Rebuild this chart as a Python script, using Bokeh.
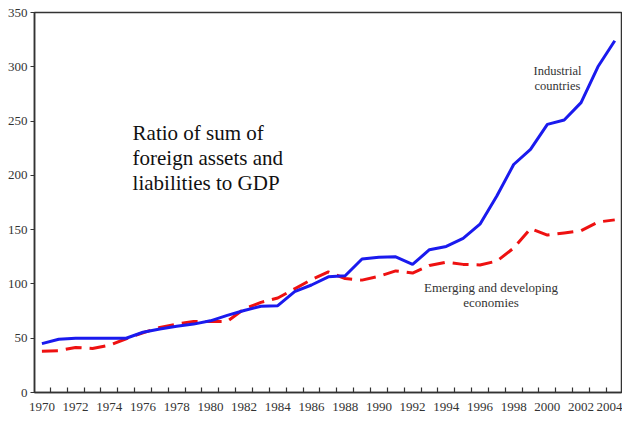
from bokeh.plotting import figure
from bokeh.models import FixedTicker, LinearAxis, Label, Range1d
from bokeh.embed import file_html
from bokeh.resources import INLINE

# ---- data ----
years = list(range(1970, 2005))
industrial = [45, 49, 50, 50, 50, 50, 55.5, 58.5, 61, 63,
              66, 71, 75.5, 79.5, 80, 93, 99, 106.5, 107.5, 123,
              124.5, 125, 118, 131.5, 134.5, 142, 155, 181, 210, 224,
              247, 251, 267, 300, 324]
emerging = [38, 38.5, 41.5, 40.5, 43.5, 49.5, 55, 60, 63, 65.5,
            65.5, 65.5, 77, 83, 87, 95.5, 104, 111, 105, 103.5,
            107, 112, 110, 117, 120, 118, 117.5, 121, 133, 151,
            145, 147, 149, 157, 159]
x_tick_marks = [y + 0.5 for y in range(1970, 2004)]
x_label_years = list(range(1970, 2005, 2))
y_ticks = [0, 50, 100, 150, 200, 250, 300, 350]

FONT = "Liberation Serif"
TXT = "#333333"

p = figure(width=622, height=413, output_backend="svg", toolbar_location=None,
           x_range=Range1d(1969.56, 2004.4), y_range=Range1d(0, 350),
           min_border_left=34, min_border_top=12, min_border_right=1,
           min_border_bottom=17, background_fill_color="white",
           border_fill_color="white")
p.grid.visible = False
p.outline_line_color = "#333333"
p.outline_line_width = 1.5

# x axis: tick marks only (between years)
xa = p.xaxis[0]
xa.ticker = FixedTicker(ticks=x_tick_marks)
xa.major_label_overrides = {t: "" for t in x_tick_marks}
xa.major_label_standoff = 0
xa.major_tick_in = 5
xa.major_tick_out = 0
xa.minor_tick_line_color = None
xa.axis_line_color = "#333333"
xa.axis_line_width = 1.5
xa.major_tick_line_color = "#333333"
xa.major_tick_line_width = 1.2

# x axis: year labels
xl = LinearAxis(ticker=FixedTicker(ticks=x_label_years))
xl.axis_line_color = None
xl.major_tick_line_color = None
xl.minor_tick_line_color = None
xl.major_label_standoff = 4
xl.major_label_text_font = FONT
xl.major_label_text_font_size = "13px"
xl.major_label_text_color = TXT
p.add_layout(xl, "below")

ya = p.yaxis[0]
ya.ticker = FixedTicker(ticks=y_ticks)
ya.major_tick_in = 0
ya.major_tick_out = 4
ya.minor_tick_line_color = None
ya.axis_line_color = "#333333"
ya.axis_line_width = 1.5
ya.major_tick_line_color = "#333333"
ya.major_label_standoff = 3
ya.major_label_text_font = FONT
ya.major_label_text_font_size = "13px"
ya.major_label_text_color = TXT

p.line(years, emerging, line_color="#ee1111", line_width=3, line_dash="16 8")
p.line(years, industrial, line_color="#1a1aee", line_width=3)

# annotations
for txt, yv in [("Ratio of sum of", 249.8), ("foreign assets and", 227.0),
                ("liabilities to GDP", 204.2)]:
    p.add_layout(Label(x=1975.38, y=yv, text=txt, text_font=FONT,
                       text_font_size="21px", text_color="#111111",
                       text_baseline="top", text_align="left"))

for txt, yv in [("Industrial", 302.6), ("countries", 288.5)]:
    p.add_layout(Label(x=2000.6, y=yv, text=txt, text_font=FONT,
                       text_font_size="12.5px", text_color=TXT,
                       text_baseline="top", text_align="center"))

for txt, yv in [("Emerging and developing", 104.0), ("economies", 90.0)]:
    p.add_layout(Label(x=1996.66, y=yv, text=txt, text_font=FONT,
                       text_font_size="13px", text_color=TXT,
                       text_baseline="top", text_align="center"))

open("out.html", "w").write(file_html(p, INLINE))
